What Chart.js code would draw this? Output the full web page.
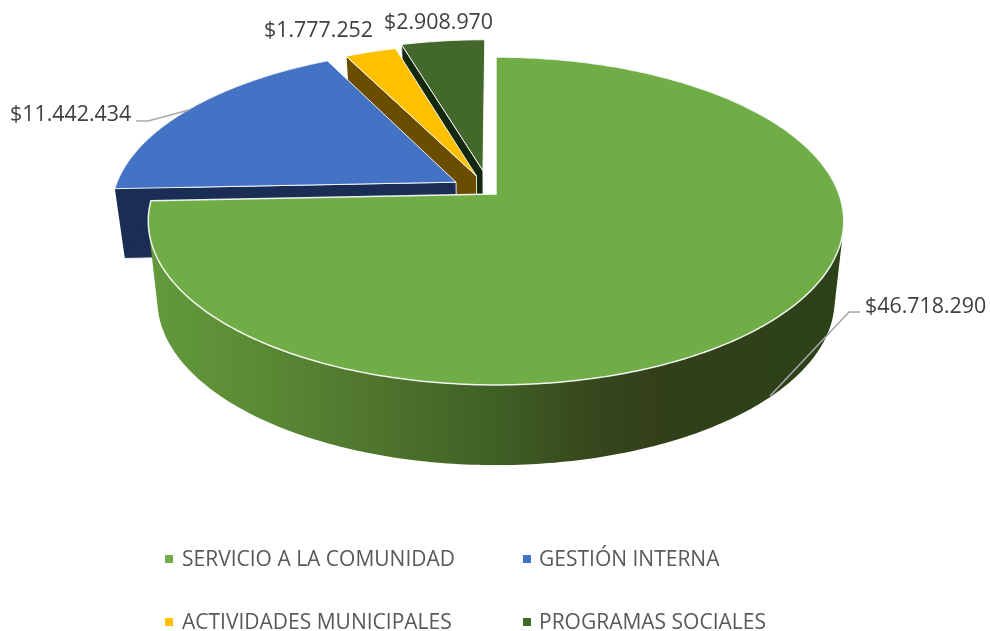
<!DOCTYPE html>
<html><head><meta charset="utf-8">
<style>html,body{margin:0;padding:0;background:#fff}canvas{display:block}</style>
<script src="https://cdn.jsdelivr.net/npm/chart.js@4/dist/chart.umd.min.js"></script>
</head><body>
<canvas id="c" width="990" height="631"></canvas>
<script>
const categories = ['SERVICIO A LA COMUNIDAD','GESTIÓN INTERNA','ACTIVIDADES MUNICIPALES','PROGRAMAS SOCIALES'];
const values = [46718290,11442434,1777252,2908970];
const valueLabels = ['$46.718.290','$11.442.434','$1.777.252','$2.908.970'];
const topColors = ['#70AD47','#4472C4','#FFC000','#43682B'];
const wallColors = ['#2f4a1c','#1A2D55','#6B4D00','#14280E'];

const K=0.1646, CX=496;
const SHIFT=[[0,0],[-0.118,-0.075],[-0.058,-0.115],[-0.039,-0.15]];
const TOP={cy:194,a:343,b:159.5}, BOT_MAIN={cy:273,a:334,b:160.5}, BOT_EXP={cy:264,a:334,b:168};
function P(pl,X,Y){const d=1-K*Y;return [CX+pl.a*X/d, pl.cy+pl.b*Y/d];}
function arcPts(pl,s,e,ox,oy){const n=Math.max(2,Math.ceil((e-s)/0.015));const r=[];
  for(let i=0;i<=n;i++){const t=s+(e-s)*i/n;r.push(P(pl,Math.cos(t)+ox,Math.sin(t)+oy));}
  return r;}
function poly(ctx,pts,fill,stroke,lw){ctx.beginPath();pts.forEach((p,i)=>i?ctx.lineTo(p[0],p[1]):ctx.moveTo(p[0],p[1]));ctx.closePath();
  ctx.fillStyle=fill;ctx.fill();if(stroke){ctx.strokeStyle=stroke;ctx.lineWidth=lw;ctx.stroke();}}
function area(q){let a=0;q.forEach((p,i)=>{const n=q[(i+1)%q.length];a+=p[0]*n[1]-n[0]*p[1];});return a;}
function sweep(ctx,tArc,bArc,fill){
  ctx.beginPath();
  for(let j=0;j<tArc.length-1;j++){
    let q=[tArc[j],tArc[j+1],bArc[j+1],bArc[j]];
    if(area(q)<0)q=q.reverse();
    q.forEach((p,i)=>i?ctx.lineTo(p[0],p[1]):ctx.moveTo(p[0],p[1]));
    ctx.closePath();
  }
  ctx.fillStyle=fill;ctx.fill('nonzero');
}

const pie3d={id:'pie3d',
  beforeDatasetsDraw(chart){
    const ctx=chart.ctx,arcs=chart.getDatasetMeta(0).data;
    [3,2,1,0].forEach(i=>{
      const el=arcs[i],s=el.startAngle,e=el.endAngle;
      const [ox,oy]=SHIFT[i];
      const BOT=i===0?BOT_MAIN:BOT_EXP;
      const aT=P(TOP,ox,oy),aB=P(BOT,ox,oy);
      const tArc=arcPts(TOP,s,e,ox,oy),bArc=arcPts(BOT,s,e,ox,oy);
      let wall=wallColors[i];
      if(i===0){
        const g=ctx.createLinearGradient(150,0,845,0);
        g.addColorStop(0,'#639A3C');g.addColorStop(0.16,'#5A8A35');g.addColorStop(0.32,'#4F752D');
        g.addColorStop(0.5,'#3F6025');g.addColorStop(0.62,'#38491D');g.addColorStop(0.72,'#33401A');g.addColorStop(1,'#2B4219');
        wall=g;
      } else {
        poly(ctx,[aT,tArc[0],bArc[0],aB],wall,'rgba(255,255,255,.85)',1);
      }
      if(i<2) sweep(ctx,tArc,bArc,wall);
      poly(ctx,[aT].concat(tArc),el.options.backgroundColor,'rgba(255,255,255,.9)',i===0?1.5:1);
    });
    return false;
  },
  afterDraw(chart){
    const ctx=chart.ctx;
    ctx.save();
    ctx.strokeStyle='#A6A6A6';ctx.lineWidth=1.6;
    [[[136,121],[148,121],[189,110]],[[860,312],[849,312],[770,396]]].forEach(l=>{
      ctx.beginPath();l.forEach((p,i)=>i?ctx.lineTo(p[0],p[1]):ctx.moveTo(p[0],p[1]));ctx.stroke();});
    ctx.textBaseline='middle';ctx.textAlign='left';
    ctx.font='21.4px "Open Sans"';ctx.fillStyle='#404040';
    const lp=[[865,307],[10,115],[264,31],[384,23]];
    valueLabels.forEach((t,i)=>ctx.fillText(t,lp[i][0],lp[i][1]));
    ctx.font='21px "Open Sans"';
    const mp=[[165,559],[523,559],[165,622],[523,622]];
    chart.data.labels.forEach((t,i)=>{
      const [x,y]=mp[i];
      ctx.fillStyle=topColors[i];ctx.fillRect(x,y-4,8,8);
      ctx.fillStyle='#595959';ctx.fillText(t,x+(i%2?16:17),y+1);
    });
    ctx.restore();
  }};

new Chart(document.getElementById('c'),{
  type:'pie',
  data:{labels:categories,datasets:[{data:values,backgroundColor:topColors,borderWidth:0}]},
  options:{responsive:false,animation:false,
    plugins:{legend:{display:false},tooltip:{enabled:false}}},
  plugins:[pie3d]
});
</script>
</body></html>
